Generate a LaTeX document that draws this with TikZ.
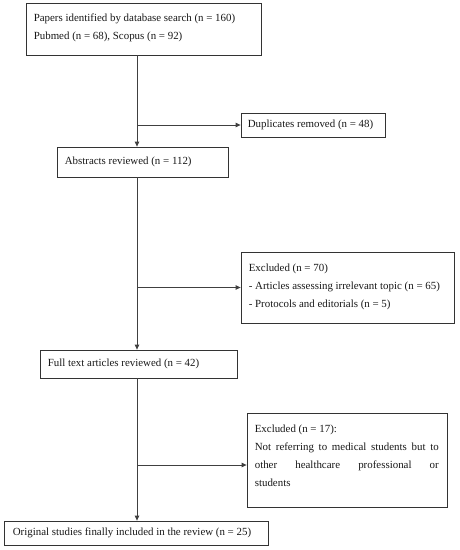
\documentclass[tikz,border=0pt]{standalone}
\usepackage{fontspec}
\setmainfont{Liberation Serif}
\usetikzlibrary{arrows.meta}
\begin{document}
\begin{tikzpicture}[x=1pt,y=-1pt,
  box/.style={draw=black!80, line width=0.8pt, inner sep=0pt},
  txt/.style={anchor=west, inner sep=0pt, align=left,
    font=\fontsize{10.9}{18}\selectfont, text=black!90},
  arr/.style={draw=black!75, line width=0.8pt, -{Triangle[length=5pt,width=4.5pt]}}]
\useasboundingbox (0,0) rectangle (460,550);
\fill[white] (0,0) rectangle (460,550);
% boxes
\node[box, minimum width=235pt, minimum height=52pt] (b1) at (143.5,29) {};
\node[box, minimum width=144pt, minimum height=24pt] (dup) at (313,125) {};
\node[box, minimum width=171pt, minimum height=30pt] (b2) at (142.5,162) {};
\node[box, minimum width=213pt, minimum height=71pt] (exc1) at (347.5,287.5) {};
\node[box, minimum width=197pt, minimum height=28pt] (b3) at (138.5,364) {};
\node[box, minimum width=200pt, minimum height=94pt] (exc2) at (347,460) {};
\node[box, minimum width=264pt, minimum height=24pt] (b4) at (136,533) {};
% texts
\node[txt] (t1) at ([xshift=8pt,yshift=1pt]b1.west)
  {Papers identified by database search (n = 160)\\Pubmed (n = 68), Scopus (n = 92)};
\node[txt] (tdup) at ([xshift=7pt]dup.west) {Duplicates removed (n = 48)};
\node[txt] (t2) at ([xshift=8pt]b2.west) {Abstracts reviewed (n = 112)};
\node[txt] (te1) at ([xshift=8pt,yshift=1pt]exc1.west)
  {Excluded (n = 70)\\- Articles assessing irrelevant topic (n = 65)\\- Protocols and editorials (n = 5)};
\node[txt] (t3) at ([xshift=8pt]b3.west) {Full text articles reviewed (n = 42)};
\node[txt] (te2) at ([xshift=8pt,yshift=4pt]exc2.west)
  {Excluded (n = 17):\\\makebox[184pt][s]{Not referring to medical students but to}\\\makebox[184pt][s]{other healthcare professional or}\\students};
\node[txt] (t4) at ([xshift=9pt]b4.west) {Original studies finally included in the review (n = 25)};
% connectors
\coordinate (sp) at (137,0);
\coordinate (e2a) at ([yshift=-5pt]exc2.west);
\draw[arr] (b1.south -| sp) -- (b2.north -| sp);
\draw[arr] (dup.west -| sp) -- (dup.west);
\draw[arr] (b2.south -| sp) -- (b3.north -| sp);
\draw[arr] (exc1.west -| sp) -- (exc1.west);
\draw[arr] (b3.south -| sp) -- (b4.north -| sp);
\draw[arr] (e2a -| sp) -- (e2a);
\end{tikzpicture}
\end{document}
